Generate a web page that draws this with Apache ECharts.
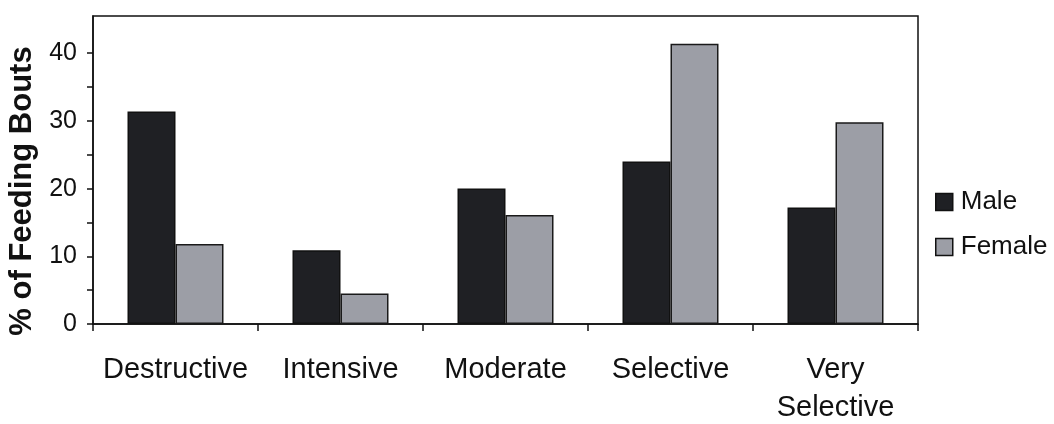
<!DOCTYPE html>
<html>
<head>
<meta charset="utf-8">
<script src="https://cdn.jsdelivr.net/npm/echarts@6/dist/echarts.min.js"></script>
<style>
html,body{margin:0;padding:0;background:#fff;}
#c{width:1054px;height:424px;}
</style>
</head>
<body>
<div id="c"></div>
<script>
const categories = ['Destructive', 'Intensive', 'Moderate', 'Selective', 'Very\nSelective'];
const maleValues = [31.4, 10.9, 20.0, 24.0, 17.2];
const femaleValues = [11.8, 4.5, 16.1, 41.4, 29.8];
const seriesNames = ['Male', 'Female'];
const yAxisTitle = '% of Feeding Bouts';
const yTickValues = [0, 5, 10, 15, 20, 25, 30, 35, 40];
const yLabelValues = [0, 10, 20, 30, 40];

const chart = echarts.init(document.getElementById('c'), null, {renderer: 'canvas'});
const FONT = '"Liberation Sans", Arial, sans-serif';
chart.setOption({
  animation: false,
  backgroundColor: '#ffffff',
  grid: {
    left: 93, right: 136, top: 16, bottom: 100,
    outerBoundsMode: 'none',
    containLabel: false,
    show: true, borderColor: '#111', borderWidth: 1.5, backgroundColor: 'transparent'
  },
  legend: {
    orient: 'vertical',
    left: 930, top: 184,
    icon: 'rect',
    itemWidth: 17, itemHeight: 17, itemGap: 19,
    data: seriesNames,
    itemStyle: {borderColor: '#111', borderWidth: 1.5},
    textStyle: {fontFamily: FONT, fontSize: 26, color: '#111', padding: [0, 0, 0, 3]}
  },
  xAxis: {
    type: 'category',
    data: categories,
    axisLine: {lineStyle: {color: '#111', width: 1.5}},
    axisTick: {show: true, length: 7, lineStyle: {color: '#111', width: 1.5}},
    axisLabel: {
      fontFamily: FONT, fontSize: 29, color: '#111', margin: 27, lineHeight: 38, interval: 0
    }
  },
  yAxis: {
    type: 'value',
    min: 0, max: 45.5, interval: 5,
    name: yAxisTitle,
    nameLocation: 'middle',
    nameGap: 55,
    nameTextStyle: {fontFamily: FONT, fontSize: 31, fontWeight: 'bold', color: '#111', padding: [0, 42, 0, 0]},
    splitLine: {show: false},
    axisLine: {show: true, lineStyle: {color: '#111', width: 1.5}},
    axisTick: {show: true, length: 6, customValues: yTickValues, lineStyle: {color: '#111', width: 1.5}},
    axisLabel: {
      fontFamily: FONT, fontSize: 25, color: '#111', margin: 16,
      customValues: yLabelValues
    }
  },
  series: [
    {
      name: seriesNames[0], type: 'bar', data: maleValues,
      barWidth: 48, barGap: '0%',
      itemStyle: {color: '#1f2024', borderColor: '#111', borderWidth: 1.5}
    },
    {
      name: seriesNames[1], type: 'bar', data: femaleValues,
      barWidth: 48, barGap: '0%',
      itemStyle: {color: '#9c9ea6', borderColor: '#1a1a1a', borderWidth: 1.5}
    }
  ]
});
</script>
</body>
</html>
